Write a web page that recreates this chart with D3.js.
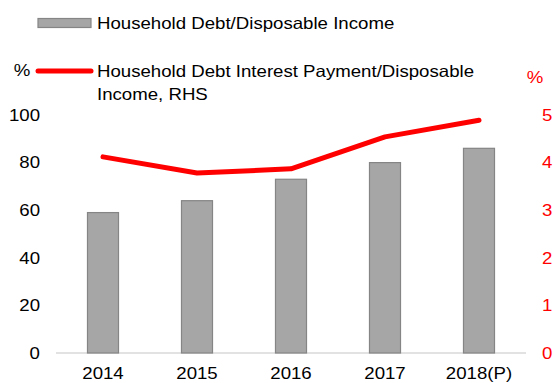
<!DOCTYPE html>
<html><head><meta charset="utf-8">
<script src="https://cdn.jsdelivr.net/npm/d3@7"></script>
<style>body{margin:0;background:#fff}svg{display:block;font-family:"Liberation Sans",Arial,sans-serif}</style>
</head><body><svg id="c" width="553" height="383"></svg>
<script>
const categories = ["2014","2015","2016","2017","2018(P)"];
const debtRatio = [59, 64, 73, 80, 86];
const interestRatio = [4.12, 3.78, 3.87, 4.54, 4.89];
const leftTicks = [0,20,40,60,80,100];
const rightTicks = [0,1,2,3,4,5];

const SX = 1.13, FS = 16.5;
const svg = d3.select("#c");
const x = d3.scaleBand().domain(categories).range([56,526]).paddingInner(0.67).paddingOuter(0.335);
const xc = d3.scalePoint().domain(categories).range([56+47,526-47]);
const yL = d3.scaleLinear().domain([0,100]).range([353,115]);
const yR = d3.scaleLinear().domain([0,5]).range([353,115]);

function txt(px, py, s, anchor, color, dy){
  svg.append("text").attr("transform",`translate(${px},${py}) scale(${SX},1)`)
    .attr("dy", dy==null?"0.35em":dy).attr("text-anchor",anchor||"start")
    .attr("font-size",FS).attr("fill",color||"#000").text(s);
}

// baseline
svg.append("line").attr("x1",56).attr("x2",526).attr("y1",yL(0)).attr("y2",yL(0))
  .attr("stroke","#d9d9d9").attr("stroke-width",1.5);

// bars
svg.selectAll("rect.bar").data(categories).enter().append("rect").attr("class","bar")
  .attr("x",d=>x(d)).attr("width",x.bandwidth())
  .attr("y",(d,i)=>yL(debtRatio[i])).attr("height",(d,i)=>yL(0)-yL(debtRatio[i]))
  .attr("fill","#a6a6a6").attr("stroke","#858585").attr("stroke-width",1.2);

// line
svg.append("path").datum(interestRatio)
  .attr("d",d3.line().x((d,i)=>xc(categories[i])).y(d=>yR(d)))
  .attr("fill","none").attr("stroke","#ff0000").attr("stroke-width",5)
  .attr("stroke-linecap","round").attr("stroke-linejoin","round");

leftTicks.forEach(d=>txt(40, yL(d), d, "end"));
rightTicks.forEach(d=>txt(542, yR(d), d, "start", "#ff0000"));
categories.forEach(d=>txt(xc(d), 379, d, "middle", "#000", "0"));

// unit labels
txt(22, 70, "%", "middle");
txt(535, 77, "%", "middle", "#ff0000");

// legend
svg.append("rect").attr("x",38).attr("y",18.5).attr("width",53).attr("height",9)
  .attr("fill","#a6a6a6").attr("stroke","#858585").attr("stroke-width",1.2);
txt(97, 23, "Household Debt/Disposable Income");
svg.append("line").attr("x1",38).attr("x2",91).attr("y1",71).attr("y2",71)
  .attr("stroke","#ff0000").attr("stroke-width",5).attr("stroke-linecap","round");
txt(97, 71, "Household Debt Interest Payment/Disposable");
txt(97, 94, "Income, RHS");
</script></body></html>
